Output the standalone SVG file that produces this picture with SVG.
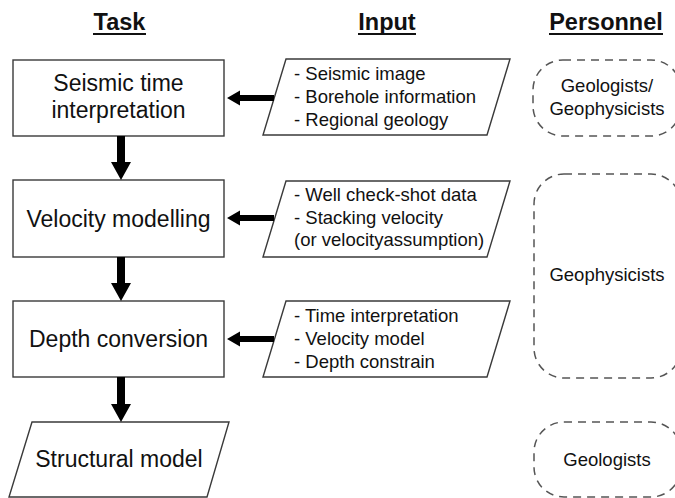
<svg xmlns="http://www.w3.org/2000/svg" width="675" height="498" viewBox="0 0 675 498">
<style>
.box{fill:#fff;stroke:#3a3a3a;stroke-width:1.4}
.dash{fill:none;stroke:#555;stroke-width:1.5;stroke-dasharray:8 6}
.t{font-family:"Liberation Sans",Arial,sans-serif;fill:#111}
.task{font-size:23px;text-anchor:middle}
.inp{font-size:18.5px}
.per{font-size:18.5px;text-anchor:middle}
.hdr{font-size:23.5px;font-weight:bold;text-anchor:middle}
.ul{stroke:#111;stroke-width:2}
.arr{fill:#000}
</style>
<rect width="675" height="498" fill="#fff"/>
<g id="headers">
<text class="t hdr" x="119.5" y="30">Task</text>
<line class="ul" x1="93" y1="34" x2="146" y2="34"/>
<text class="t hdr" x="387" y="30">Input</text>
<line class="ul" x1="358" y1="34" x2="416" y2="34"/>
<text class="t hdr" x="606" y="30">Personnel</text>
<line class="ul" x1="549" y1="34" x2="663" y2="34"/>
</g>
<g id="task1">
<rect class="box" x="13" y="60" width="211" height="76"/>
<text class="t task" x="118.5" y="91">Seismic time</text>
<text class="t task" x="118.5" y="118">interpretation</text>
</g>
<g id="task2">
<rect class="box" x="13" y="180" width="211" height="77"/>
<text class="t task" x="118.5" y="226.5">Velocity modelling</text>
</g>
<g id="task3">
<rect class="box" x="13" y="301" width="211" height="76"/>
<text class="t task" x="118.5" y="347">Depth conversion</text>
</g>
<g id="task4">
<polygon class="box" points="32,422 229,422 207,497 9,497"/>
<text class="t task" x="119" y="467">Structural model</text>
</g>
<g id="input1">
<polygon class="box" points="286,59 510,59 487,135 263,135"/>
<text class="t inp" x="294" y="80">- Seismic image</text>
<text class="t inp" x="294" y="103">- Borehole information</text>
<text class="t inp" x="294" y="126">- Regional geology</text>
</g>
<g id="input2">
<polygon class="box" points="286,181 510,181 487,257 263,257"/>
<text class="t inp" x="294" y="201">- Well check-shot data</text>
<text class="t inp" x="294" y="223.5">- Stacking velocity</text>
<text class="t inp" x="294" y="246">(or velocityassumption)</text>
</g>
<g id="input3">
<polygon class="box" points="286,301 510,301 487,377 263,377"/>
<text class="t inp" x="294" y="322">- Time interpretation</text>
<text class="t inp" x="294" y="345">- Velocity model</text>
<text class="t inp" x="294" y="368">- Depth constrain</text>
</g>
<g id="personnel1">
<rect class="dash" x="533" y="60" width="148" height="76" rx="30"/>
<text class="t per" x="607" y="92">Geologists/</text>
<text class="t per" x="607" y="115">Geophysicists</text>
</g>
<g id="personnel2">
<rect class="dash" x="534" y="174" width="147" height="204" rx="30"/>
<text class="t per" x="607" y="281">Geophysicists</text>
</g>
<g id="personnel3">
<rect class="dash" x="534" y="422" width="147" height="75" rx="30"/>
<text class="t per" x="607" y="466">Geologists</text>
</g>
<g id="connectors">
<polygon class="arr" points="117,136 125,136 125,162 131,162 121,180 111,162 117,162"/>
<polygon class="arr" points="117,257 125,257 125,283 131,283 121,301 111,283 117,283"/>
<polygon class="arr" points="117,377 125,377 125,404 131,404 121,422 111,404 117,404"/>
<polygon class="arr" points="274,95 240,95 240,90.5 227,98 240,105.5 240,101 274,101"/>
<polygon class="arr" points="274,215 240,215 240,210.5 227,218 240,225.5 240,221 274,221"/>
<polygon class="arr" points="274,336 240,336 240,331.5 227,339 240,346.5 240,342 274,342"/>
</g>
</svg>
